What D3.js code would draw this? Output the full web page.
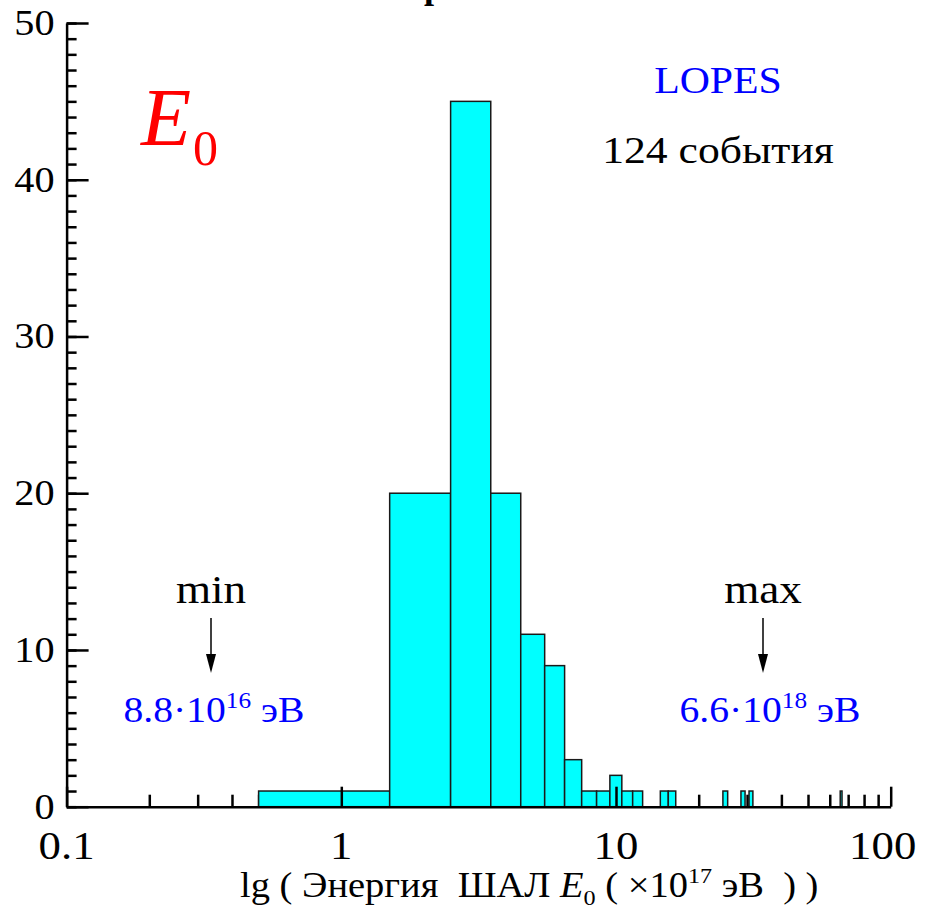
<!DOCTYPE html>
<html>
<head>
<meta charset="utf-8">
<script src="https://cdn.jsdelivr.net/npm/d3@7"></script>
<style>
  body { margin: 0; background: #fff; }
</style>
</head>
<body>
<svg width="926" height="911"></svg>
<script>
// histogram bins (centre of bin, x10^17 eV) and event counts
var binCenters = [1, 2, 3, 4, 5, 6, 7, 8, 9, 10, 11, 12, 15, 16, 25, 29, 31, 66];
var counts     = [1, 20, 45, 20, 11, 9, 3, 1, 1, 2, 1, 1, 1, 1, 1, 1, 1, 1];
var binWidth = 1;

var xTicks = [0.1, 1, 10, 100];
var xTickLabels = ["0.1", "1", "10", "100"];
var yTicks = [0, 10, 20, 30, 40, 50];

var SERIF = "'Liberation Serif', 'Times New Roman', serif";

// text placed at (x,y) and stretched a little horizontally like the original
function label(svg, x, y, anchor, size, stretch) {
    return svg.append("g")
        .attr("transform", "translate(" + x + "," + y + ") scale(" + stretch + ",1)")
        .append("text")
        .attr("text-anchor", anchor)
        .style("font-family", SERIF)
        .style("font-size", size + "px");
}

function main() {
    var svg = d3.select("svg"),
        left = 66.6,
        right = 890.7,
        top = 23,
        bottom = 806.7;

    var xScale = d3.scaleLog().domain([0.1, 100]).range([left, right]),
        yScale = d3.scaleLinear().domain([0, 50]).range([bottom, top]);

    var data = binCenters.map(function(c, i) { return {c: c, n: counts[i]}; });

    // title, almost entirely above the picture
    label(svg, 444, -2, "end", 36, 1)
        .style("font-weight", "bold")
        .text("Спектр");

    // minor ticks (drawn first, bars cover them)
    var minorX = [];
    [0.1, 1, 10].forEach(function(d) {
        for (var k = 2; k <= 9; k++) minorX.push(d * k);
    });
    var minorY = d3.range(0, 51);

    svg.append("g")
        .attr("class", "minor")
        .attr("transform", "translate(0," + bottom + ")")
        .call(d3.axisBottom(xScale).tickValues(minorX).tickSize(-12).tickSizeOuter(0).tickFormat(""));
    svg.append("g")
        .attr("class", "minor")
        .attr("transform", "translate(" + left + ",0)")
        .call(d3.axisLeft(yScale).tickValues(minorY).tickSize(-10).tickSizeOuter(0).tickFormat(""));

    var gx = svg.append("g")
        .attr("class", "major")
        .attr("transform", "translate(0," + bottom + ")")
        .call(d3.axisBottom(xScale)
            .tickValues(xTicks)
            .tickSize(-20)
            .tickSizeOuter(0)
            .tickFormat(""));

    var gy = svg.append("g")
        .attr("class", "major")
        .attr("transform", "translate(" + left + ",0)")
        .call(d3.axisLeft(yScale)
            .tickValues(yTicks)
            .tickSize(-22)
            .tickSizeOuter(0)
            .tickFormat(""));

    svg.selectAll(".minor .domain").remove();
    svg.selectAll(".minor line, .major line")
        .attr("stroke", "#000")
        .attr("stroke-width", 2.5);

    // tick labels
    xTicks.forEach(function(v, i) {
        label(svg, xScale(v) - (i == 3 ? 8 : 0), 859, "middle", 40, 1.12).attr("fill", "#000").text(xTickLabels[i]);
    });
    yTicks.forEach(function(v) {
        label(svg, left - 12, yScale(v) + 12, "end", 35, 1.15).attr("fill", "#000").text(v);
    });

    // bars
    svg.append("g")
        .selectAll(".bar")
        .data(data)
        .enter()
        .append("rect")
        .attr("class", "bar")
        .attr("x", function(d) { return xScale(d.c - binWidth / 2); })
        .attr("y", function(d) { return yScale(d.n); })
        .attr("width", function(d) { return xScale(d.c + binWidth / 2) - xScale(d.c - binWidth / 2); })
        .attr("height", function(d) { return bottom - yScale(d.n); })
        .attr("fill", "#00ffff")
        .attr("stroke", "#1a1a1a")
        .attr("stroke-width", 1.5);

    // axis lines on top of the bars
    svg.selectAll(".major .domain")
        .attr("stroke", "#000")
        .attr("stroke-width", 2.5);
    gx.raise();
    gy.raise();
    gx.selectAll(".tick").lower();
    gy.selectAll(".tick").lower();

    // E0 label
    var e0 = label(svg, 141, 145, "start", 82, 1).attr("fill", "#ff0000");
    e0.append("tspan").style("font-style", "italic").text("E");
    e0.append("tspan").style("font-size", "50px").attr("dy", 20).attr("dx", 2).text("0");

    label(svg, 718, 93, "middle", 38, 1.1).attr("fill", "#0000ff").text("LOPES");
    label(svg, 718, 163, "middle", 39, 1.12).attr("fill", "#000").text("124 события");

    // min / max annotations
    var notes = [
        {label: "min", x: 211, mant: "8.8·10", exp: "16", vx: 214},
        {label: "max", x: 763, mant: "6.6·10", exp: "18", vx: 770}
    ];
    notes.forEach(function(n) {
        label(svg, n.x, 603, "middle", 41, 1.1).attr("fill", "#000").text(n.label);
        svg.append("line")
            .attr("x1", n.x).attr("x2", n.x)
            .attr("y1", 618).attr("y2", 660)
            .attr("stroke", "#000")
            .attr("stroke-width", 1.5);
        svg.append("path")
            .attr("d", "M" + (n.x - 5) + ",654 L" + (n.x + 5) + ",654 L" + n.x + ",673 Z")
            .attr("fill", "#000");
        var t = label(svg, n.vx, 722, "middle", 36, 1.1).attr("fill", "#0000ff");
        t.append("tspan").text(n.mant);
        t.append("tspan").style("font-size", "23px").attr("dy", -14).text(n.exp);
        t.append("tspan").attr("dy", 14).text(" эВ");
    });

    // x axis title
    var xt = label(svg, 240, 897, "start", 35, 1.1)
        .attr("fill", "#000")
        .attr("xml:space", "preserve");
    xt.append("tspan").text("lg ( Энергия  ШАЛ ");
    xt.append("tspan").style("font-style", "italic").text("E");
    xt.append("tspan").style("font-size", "22px").attr("dy", 8).text("0");
    xt.append("tspan").attr("dy", -8).text(" ( ×10");
    xt.append("tspan").style("font-size", "22px").attr("dy", -14).text("17");
    xt.append("tspan").attr("dy", 14).text(" эВ  ) )");
}
main();
</script>
</body>
</html>
